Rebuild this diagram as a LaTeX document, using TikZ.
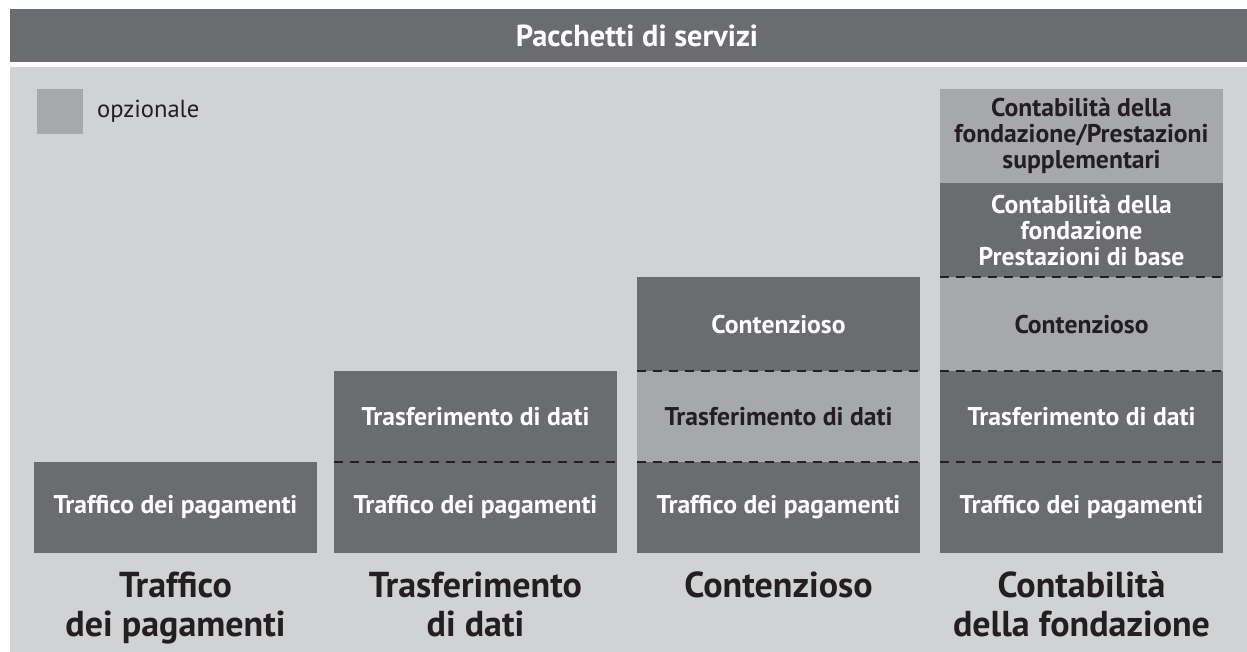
\documentclass[tikz,border=0pt]{standalone}
\usepackage{fontspec}
\setmainfont{PT Sans}
\usepackage{xcolor}
\usetikzlibrary{positioning}

\definecolor{boxdark}{HTML}{6B6C70}
\definecolor{boxlight}{HTML}{A7A8AB}
\definecolor{panelgray}{HTML}{D1D2D4}
\definecolor{inkdark}{HTML}{231F20}

\begin{document}
\begin{tikzpicture}[x=0.02cm, y=-0.02cm, node distance=0pt,
        pkg/.style={rectangle, inner sep=0pt, outer sep=0pt, minimum width=5.66cm, align=center,
            font=\bfseries\fontsize{14.6}{14.8}\selectfont},
        darkpkg/.style={pkg, fill=boxdark, text=white},
        lightpkg/.style={pkg, fill=boxlight, text=inkdark},
        low/.style={minimum height=1.82cm},
        high/.style={minimum height=1.88cm},
        split/.style={draw=inkdark, line width=1.1pt, dash pattern=on 5.1pt off 4pt},
        caption/.style={inner sep=0pt, align=center, text=inkdark,
            font=\bfseries\fontsize{20.5}{22.2}\selectfont}
    ]
        \useasboundingbox (0,0) rectangle (1247,652);
        % background and title bar
        \fill [panelgray] (10,67) rectangle (1247,652);
        \node [rectangle, fill=boxdark, text=white, minimum width=25.08cm, minimum height=1.06cm,
            inner sep=0pt, font=\bfseries\fontsize{17.3}{18}\selectfont] (title) at (637,35.5) {Pacchetti di servizi};

        % legend
        \node [rectangle, fill=boxlight, minimum width=0.92cm, minimum height=0.9cm, inner sep=0pt] (legend) at (60,111.5) {};
        \node [right=0.27cm of legend, inner sep=0pt, text=inkdark, font=\fontsize{14}{14.5}\selectfont] (legendtext) {opzionale};

        % column 1
        \node [darkpkg, low] (c1a) at (175.5,507.5) {Traffico dei pagamenti};

        % column 2
        \node [darkpkg, low] (c2a) at (475.5,507.5) {Traffico dei pagamenti};
        \node [darkpkg, low, above=of c2a] (c2b) {Trasferimento di dati};

        % column 3
        \node [darkpkg, low] (c3a) at (778.5,507.5) {Traffico dei pagamenti};
        \node [lightpkg, low, above=of c3a] (c3b) {Trasferimento di dati};
        \node [darkpkg, high, above=of c3b] (c3c) {Contenzioso};

        % column 4
        \node [darkpkg, low] (c4a) at (1081.5,507.5) {Traffico dei pagamenti};
        \node [darkpkg, low, above=of c4a] (c4b) {Trasferimento di dati};
        \node [lightpkg, high, above=of c4b] (c4c) {Contenzioso};
        \node [darkpkg, high, above=of c4c] (c4d) {Contabilità della\\fondazione\\Prestazioni di base};
        \node [lightpkg, high, above=of c4d] (c4e) {Contabilità della\\fondazione/Prestazioni\\supplementari};

        % dashed separators
        \draw [split] (c2a.north west) -- (c2a.north east);
        \draw [split] (c3a.north west) -- (c3a.north east);
        \draw [split] (c3b.north west) -- (c3b.north east);
        \draw [split] (c4a.north west) -- (c4a.north east);
        \draw [split] (c4b.north west) -- (c4b.north east);
        \draw [split] (c4c.north west) -- (c4c.north east);

        % column captions
        \node [caption, below=0.37cm of c1a] (cap1) {Traffico\\dei pagamenti};
        \node [caption, below=0.37cm of c2a] (cap2) {Trasferimento\\di dati};
        \node [caption, below=0.37cm of c3a] (cap3) {Contenzioso};
        \node [caption, below=0.37cm of c4a] (cap4) {Contabilità\\della fondazione};
    \end{tikzpicture}
\end{document}
